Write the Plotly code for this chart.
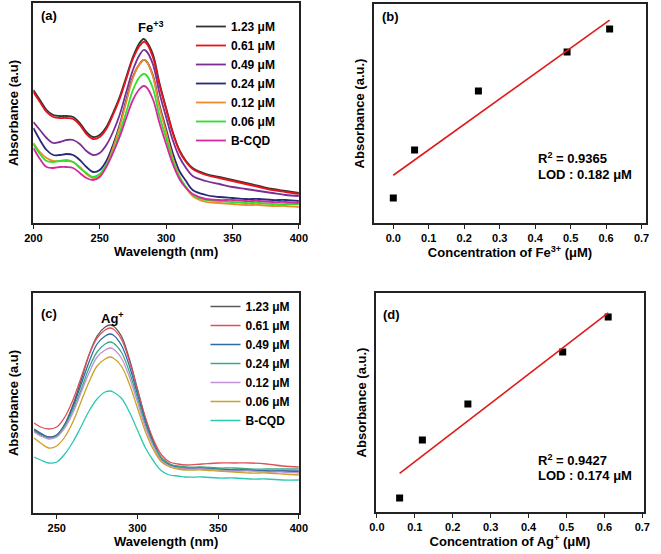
import numpy as np
import plotly.graph_objects as go

W, H = 661, 554

# ---------------- Data ----------------
conc_labels = ["1.23 μM", "0.61 μM", "0.49 μM", "0.24 μM", "0.12 μM", "0.06 μM", "B-CQD"]

# Panel (a) Fe3+ UV-vis spectra
wl_fe = [200, 205, 210, 215, 220, 225, 230, 235, 240, 245, 250, 255, 260, 265, 270, 275, 280, 283, 285,
         290, 295, 300, 305, 310, 315, 320, 330, 340, 350, 360, 370, 380, 390, 400]
fe_123 = [1.33, 1.23, 1.13, 1.08, 1.07, 1.07, 1.06, 1.00, 0.91, 0.86, 0.88, 0.96, 1.10, 1.26, 1.46, 1.66, 1.80, 1.84, 1.82,
          1.69, 1.40, 1.15, 0.91, 0.73, 0.62, 0.55, 0.49, 0.46, 0.43, 0.40, 0.37, 0.34, 0.32, 0.30]
fe_061 = [1.31, 1.21, 1.11, 1.06, 1.05, 1.05, 1.04, 0.98, 0.89, 0.84, 0.86, 0.94, 1.08, 1.24, 1.44, 1.64, 1.77, 1.81, 1.80,
          1.66, 1.38, 1.14, 0.90, 0.72, 0.61, 0.54, 0.48, 0.45, 0.42, 0.39, 0.36, 0.33, 0.31, 0.29]
fe_049 = [1.01, 0.93, 0.85, 0.80, 0.81, 0.83, 0.83, 0.79, 0.72, 0.68, 0.70, 0.78, 0.91, 1.08, 1.31, 1.53, 1.68, 1.73, 1.72,
          1.59, 1.30, 1.06, 0.83, 0.66, 0.55, 0.47, 0.42, 0.39, 0.36, 0.34, 0.32, 0.30, 0.28, 0.27]
fe_024 = [0.95, 0.83, 0.73, 0.68, 0.68, 0.69, 0.68, 0.63, 0.56, 0.51, 0.53, 0.62, 0.78, 0.98, 1.23, 1.46, 1.59, 1.63, 1.62,
          1.48, 1.18, 0.94, 0.70, 0.52, 0.42, 0.33, 0.28, 0.26, 0.25, 0.24, 0.24, 0.23, 0.23, 0.22]
fe_012 = [0.80, 0.71, 0.65, 0.62, 0.62, 0.63, 0.61, 0.56, 0.49, 0.45, 0.47, 0.58, 0.75, 0.96, 1.21, 1.45, 1.59, 1.63, 1.62,
          1.47, 1.16, 0.91, 0.65, 0.47, 0.35, 0.27, 0.21, 0.20, 0.19, 0.18, 0.18, 0.17, 0.17, 0.16]
fe_006 = [0.79, 0.69, 0.62, 0.61, 0.62, 0.62, 0.61, 0.55, 0.50, 0.46, 0.49, 0.58, 0.71, 0.90, 1.11, 1.33, 1.46, 1.49, 1.48,
          1.35, 1.07, 0.85, 0.62, 0.46, 0.36, 0.28, 0.23, 0.22, 0.21, 0.20, 0.20, 0.19, 0.19, 0.19]
fe_bcqd = [0.75, 0.64, 0.56, 0.55, 0.56, 0.56, 0.55, 0.50, 0.45, 0.43, 0.46, 0.56, 0.70, 0.86, 1.05, 1.23, 1.34, 1.37, 1.36,
           1.24, 1.00, 0.79, 0.59, 0.44, 0.35, 0.29, 0.24, 0.23, 0.23, 0.22, 0.22, 0.21, 0.21, 0.20]

# Panel (b) Fe3+ calibration
conc_fe = [0.0, 0.06, 0.24, 0.49, 0.61]
abs_fe = [0.25, 0.73, 1.32, 1.71, 1.94]

# Panel (c) Ag+ UV-vis spectra
wl_ag = [236, 240, 245, 250, 255, 260, 265, 270, 275, 280, 283, 285, 290, 295, 300, 305, 310, 315, 320, 325,
         330, 340, 350, 360, 370, 380, 390, 400]
ag_123 = [0.83, 0.79, 0.76, 0.78, 0.89, 1.08, 1.32, 1.58, 1.77, 1.86, 1.88, 1.87, 1.77, 1.54, 1.24, 0.94, 0.71, 0.55, 0.49, 0.46,
          0.45, 0.45, 0.44, 0.43, 0.43, 0.42, 0.42, 0.41]
ag_061 = [0.90, 0.86, 0.84, 0.86, 0.96, 1.13, 1.35, 1.58, 1.75, 1.83, 1.85, 1.84, 1.74, 1.52, 1.23, 0.95, 0.73, 0.58, 0.51, 0.49,
          0.48, 0.49, 0.50, 0.50, 0.50, 0.49, 0.47, 0.46]
ag_049 = [0.84, 0.80, 0.76, 0.78, 0.88, 1.06, 1.28, 1.51, 1.69, 1.77, 1.79, 1.78, 1.68, 1.47, 1.19, 0.91, 0.69, 0.54, 0.48, 0.46,
          0.45, 0.45, 0.44, 0.43, 0.43, 0.42, 0.42, 0.42]
ag_024 = [0.82, 0.78, 0.75, 0.77, 0.87, 1.03, 1.23, 1.45, 1.61, 1.69, 1.71, 1.70, 1.61, 1.41, 1.15, 0.88, 0.68, 0.55, 0.49, 0.47,
          0.46, 0.46, 0.45, 0.45, 0.44, 0.44, 0.44, 0.44]
ag_012 = [0.81, 0.77, 0.74, 0.76, 0.85, 1.00, 1.20, 1.40, 1.56, 1.63, 1.65, 1.64, 1.55, 1.36, 1.11, 0.85, 0.66, 0.52, 0.47, 0.45,
          0.44, 0.44, 0.43, 0.42, 0.42, 0.41, 0.41, 0.40]
ag_006 = [0.75, 0.70, 0.65, 0.67, 0.76, 0.91, 1.11, 1.31, 1.47, 1.54, 1.56, 1.55, 1.47, 1.29, 1.05, 0.81, 0.63, 0.51, 0.46, 0.44,
          0.43, 0.43, 0.42, 0.41, 0.40, 0.40, 0.39, 0.38]
ag_bcqd = [0.56, 0.53, 0.50, 0.51, 0.59, 0.71, 0.86, 1.02, 1.14, 1.21, 1.22, 1.21, 1.15, 1.01, 0.83, 0.65, 0.52, 0.42, 0.38, 0.37,
           0.36, 0.36, 0.35, 0.35, 0.34, 0.34, 0.33, 0.33]

# Panel (d) Ag+ calibration
conc_ag = [0.06, 0.12, 0.24, 0.49, 0.61]
abs_ag = [0.14, 0.72, 1.08, 1.60, 1.95]

fe_series = [fe_123, fe_061, fe_049, fe_024, fe_012, fe_006, fe_bcqd]
ag_series = [ag_123, ag_061, ag_049, ag_024, ag_012, ag_006, ag_bcqd]

fe_colors = ["#333333", "#e8141c", "#7b2d93", "#262a78", "#f08a2a", "#2ee02e", "#d42a9c"]
ag_colors = ["#5a5a5a", "#e0505a", "#2c6aa6", "#3aaa82", "#c090d8", "#c9a227", "#2cc8b0"]

# ---------------- Figure ----------------
FONT = "Liberation Sans"
fig = go.Figure()

def px(x):
    return x / W

def py(y):
    return 1 - y / H

for lab, ys, c in zip(conc_labels, fe_series, fe_colors):
    fig.add_trace(go.Scatter(x=wl_fe, y=ys, mode="lines", name=lab, line=dict(color=c, width=1.8, shape="spline"),
                             xaxis="x", yaxis="y", legend="legend"))

fig.add_trace(go.Scatter(x=conc_fe, y=abs_fe, mode="markers", marker=dict(symbol="square", size=7, color="black"),
                         xaxis="x2", yaxis="y2", showlegend=False))
k, b = np.polyfit(conc_fe, abs_fe, 1)
xf = [min(conc_fe), max(conc_fe)]
fig.add_trace(go.Scatter(x=xf, y=[k * v + b for v in xf], mode="lines", line=dict(color="#e01a1a", width=1.6),
                         xaxis="x2", yaxis="y2", showlegend=False))

for lab, ys, c in zip(conc_labels, ag_series, ag_colors):
    fig.add_trace(go.Scatter(x=wl_ag, y=ys, mode="lines", name=lab, line=dict(color=c, width=1.3, shape="spline"),
                             xaxis="x3", yaxis="y3", legend="legend2"))

fig.add_trace(go.Scatter(x=conc_ag, y=abs_ag, mode="markers", marker=dict(symbol="square", size=7, color="black"),
                         xaxis="x4", yaxis="y4", showlegend=False))
k2, b2 = np.polyfit(conc_ag, abs_ag, 1)
xf2 = [min(conc_ag), max(conc_ag)]
fig.add_trace(go.Scatter(x=xf2, y=[k2 * v + b2 for v in xf2], mode="lines", line=dict(color="#e01a1a", width=1.6),
                         xaxis="x4", yaxis="y4", showlegend=False))

tickfont = dict(family=FONT, size=11, color="black", weight="bold")
titlefont = dict(family=FONT, size=13, color="black", weight="bold")

def xax(dom, rng, tickvals, fmt, title, anchor):
    return dict(domain=dom, range=rng, tickvals=tickvals, tickformat=fmt, showline=True, linecolor="#222",
                linewidth=1.5, mirror=True, ticks="outside", ticklen=4, tickwidth=1.3, tickcolor="#222",
                showgrid=False, zeroline=False, tickfont=tickfont, anchor=anchor,
                title=dict(text=title, font=titlefont, standoff=4))

def yax(dom, rng, title, anchor, standoff):
    return dict(domain=dom, range=rng, showline=True, linecolor="#222", linewidth=1.5, mirror=True,
                showticklabels=False, ticks="", showgrid=False, zeroline=False, anchor=anchor,
                title=dict(text=title, font=titlefont, standoff=standoff))

dom_x_left = [px(25), px(298)]
dom_y_top = [py(223), py(3)]
dom_y_bot = [py(513), py(293)]

fig.update_layout(
    width=W, height=H, margin=dict(l=0, r=0, t=0, b=0),
    paper_bgcolor="white", plot_bgcolor="white",
    font=dict(family=FONT, color="black"),
    xaxis=xax(dom_x_left, [200, 400], [200, 250, 300, 350, 400], "d", "Wavelength (nm)", "y"),
    yaxis=yax(dom_y_top, [0, 2.2], "Absorbance (a.u)", "x", 10),
    xaxis2=xax([px(375), px(655)], [-0.055, 0.713], [0, 0.1, 0.2, 0.3, 0.4, 0.5, 0.6, 0.7], ".1f",
               "Concentration of Fe<sup>3+</sup> (μM)", "y2"),
    yaxis2=yax([py(223), py(4)], [0, 2.19], "Absorbance (a.u.)", "x2", 4),
    xaxis3=xax(dom_x_left, [235.5, 400], [250, 300, 350, 400], "d", "Wavelength (nm)", "y3"),
    yaxis3=yax(dom_y_bot, [0, 2.2], "Absorbance (a.u)", "x3", 10),
    xaxis4=xax([px(377), px(653)], [-0.003, 0.705], [0, 0.1, 0.2, 0.3, 0.4, 0.5, 0.6, 0.7], ".1f",
               "Concentration of Ag<sup>+</sup> (μM)", "y4"),
    yaxis4=yax([py(512), py(293)], [0, 2.19], "Absorbance (a.u.)", "x4", 4),
    legend=dict(x=px(187), y=py(12), xanchor="left", yanchor="top", bgcolor="rgba(0,0,0,0)",
                font=dict(family=FONT, size=12, color="black", weight="bold"), itemwidth=30, tracegroupgap=0),
    legend2=dict(x=px(202), y=py(292), xanchor="left", yanchor="top", bgcolor="rgba(0,0,0,0)",
                 font=dict(family=FONT, size=12, color="black", weight="bold"), itemwidth=30, tracegroupgap=0),
    showlegend=True,
)

ann_font = dict(family=FONT, size=13, color="black", weight="bold")
anns = [
    ("(a)", 31, 16, "left"),
    ("Fe<sup>+3</sup>", 146, 27, "center"),
    ("(b)", 381, 17, "left"),
    ("R<sup>2</sup> = 0.9365", 542, 158, "left"),
    ("LOD : 0.182 μM", 542, 174, "left"),
    ("(c)", 31, 313, "left"),
    ("Ag<sup>+</sup>", 106, 318, "center"),
    ("(d)", 382, 314, "left"),
    ("R<sup>2</sup> = 0.9427", 542, 460, "left"),
    ("LOD : 0.174 μM", 542, 475, "left"),
]
for t, x, y, al in anns:
    fig.add_annotation(text=t, x=px(x), y=py(y), xref="paper", yref="paper", showarrow=False,
                       xanchor=al, yanchor="middle", font=ann_font)

fig.write_html("out.html")
